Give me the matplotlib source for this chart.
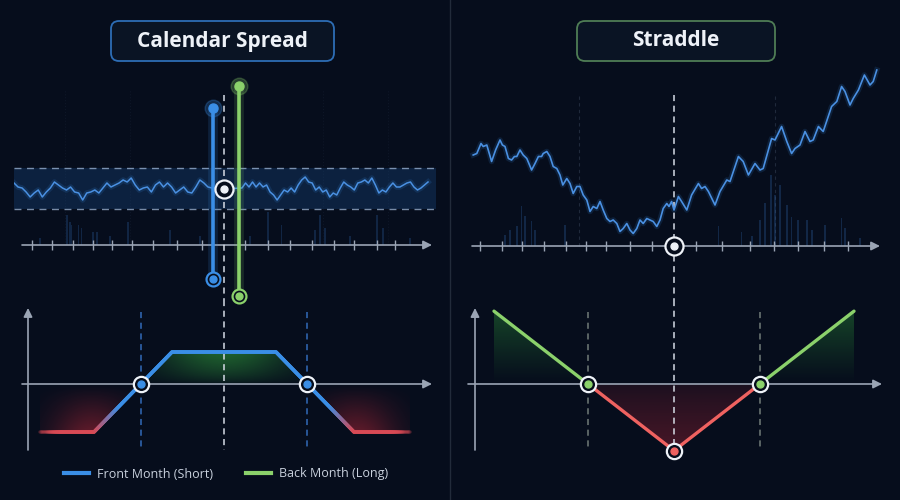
import numpy as np
import matplotlib
matplotlib.use('Agg')
import matplotlib.pyplot as plt
from matplotlib.collections import LineCollection
from matplotlib.patches import FancyBboxPatch
from matplotlib.lines import Line2D
from matplotlib.path import Path
from matplotlib.colors import to_rgb

plt.rcParams['font.family'] = ['Open Sans', 'DejaVu Sans']

BG = '#060d1c'
BLUE = '#3a8ee6'
GREEN = '#8bd16b'
RED = '#ef6260'
AXIS = '#9aa4b4'
WHITE = '#eef2f8'

# ---- calendar spread: underlying path around the strike (days, price)
cal_days_before = np.linspace(0, 49.5, 50)
cal_price_before = [100.6, 100.2, 100.1, 99.7, 99.2, 99.6, 99.9, 99.2, 99.7, 100.1,
                    100.7, 100.4, 100.1, 99.9, 100.2, 99.7, 99.6, 98.9, 99.6, 99.7,
                    99.9, 99.6, 100.1, 100.6, 100.2, 100.4, 100.6, 100.9, 100.7, 101.1,
                    100.4, 99.9, 100.1, 100.2, 99.7, 100.4, 100.7, 100.2, 100.6, 100.2,
                    99.6, 99.9, 100.2, 99.7, 99.6, 100.2, 100.9, 100.6, 100.2, 100.1]
cal_today = 52.5
cal_today_price = 100.0
cal_days_after = np.linspace(57, 103.5, 54)
cal_price_after = [100.1, 100.6, 100.2, 100.7, 100.2, 100.6, 100.2, 100.4, 99.7, 99.4,
                   98.9, 99.4, 99.9, 99.7, 100.1, 99.7, 100.4, 100.9, 101.2, 100.7,
                   100.6, 99.9, 100.2, 99.7, 99.9, 99.2, 99.6, 99.4, 100.1, 100.7,
                   100.4, 100.2, 99.9, 100.6, 100.7, 100.9, 100.6, 101.1, 100.4, 99.6,
                   99.9, 99.7, 100.2, 100.6, 100.2, 100.2, 100.4, 100.6, 100.7, 100.2,
                   99.9, 100.1, 100.4, 100.7]
cal_band = (98.0, 102.1)
cal_front_exp = 49.75
cal_back_exp = 56.25
cal_front_leg = (91.0, 108.1)
cal_back_leg = (89.3, 110.3)
cal_ticks = [4.5, 9.5, 14.7, 19.7, 24.4, 29.4, 34.8, 40.7, 46.9, 57.8, 63.5, 69, 74.5, 80, 85, 90.7, 95.3]
cal_grid = [12.75, 29, 77.25, 93.5]
cal_vol_days = [6.5, 13.2, 14.0, 14.4, 16.1, 16.9, 19.75, 20.7, 24.0, 28.5, 39.0, 46.5,
                59.0, 63.5, 66.9, 75.25, 76.5, 77.75, 84.0, 90.7, 92.25, 99.0]
cal_vol = [0.7, 3.0, 2.3, 2.0, 2.0, 1.7, 1.3, 1.3, 0.9, 2.3, 1.5, 0.9,
           0.9, 3.3, 2.0, 1.5, 3.0, 1.7, 0.9, 3.0, 1.7, 0.7]

# calendar spread payoff at front expiry
cal_S = [54, 67.5, 87, 113, 132.5, 146.5]
cal_pnl = [-3, -3, 2, 2, -3, -3]
cal_be = [79.2, 120.8]

# ---- straddle: underlying path (days, price)
str_days = [-0.2, 0.7, 1.75, 2.3, 3.2, 4.4, 5.4, 6.5, 7.1, 7.75,
            8.6, 9.4, 10.1, 10.7, 11.5, 12.3, 13.2, 14.4, 15.25, 16.1,
            16.9, 17.3, 18.2, 19.0, 19.8, 20.7, 21.5, 22.2, 23.2, 24.0,
            24.8, 25.7, 26.5, 27.3, 28.2, 29.0, 29.8, 30.7, 31.5, 32.3,
            33.2, 34.0, 34.8, 35.7, 36.5, 37.3, 38.2, 39.0, 39.8, 40.7,
            41.5, 42.3, 43.2, 44.0, 44.8, 45.7, 46.5, 47.3, 48.2, 48.75,
            49.4, 50.0, 51.1, 51.9, 53.2, 54.4, 56.1, 56.9, 57.75, 58.6,
            60.25, 61.5, 63.2, 64.0, 66.1, 67.3, 68.6, 70.25, 71.5, 72.3,
            74.4, 75.25, 76.9, 78.2, 79.4, 80.25, 81.5, 82.75, 84.0, 84.8,
            86.1, 87.3, 89.4, 90.7, 91.9, 92.75, 94.0, 94.8, 96.1, 97.6,
            99.0, 99.8, 100.7]
str_price = [111.0, 111.3, 113.3, 112.7, 113.0, 109.7, 112.0, 114.0, 113.0, 112.7,
             110.3, 110.0, 110.7, 110.7, 112.0, 111.0, 110.3, 108.0, 109.3, 110.7,
             110.7, 111.3, 111.7, 110.7, 108.7, 108.3, 107.0, 105.0, 106.3, 105.3,
             103.3, 104.7, 104.7, 103.0, 102.0, 99.7, 100.7, 100.3, 101.7, 100.0,
             98.3, 97.7, 98.0, 97.3, 95.7, 96.3, 97.3, 96.0, 95.3, 96.3,
             98.0, 97.3, 98.3, 98.0, 97.7, 96.7, 98.0, 100.3, 101.3, 100.7,
             101.7, 100.0, 102.7, 101.7, 100.0, 103.0, 105.3, 104.3, 104.7, 103.7,
             101.0, 103.7, 106.0, 105.7, 110.7, 109.7, 107.0, 109.3, 108.0, 108.3,
             114.3, 114.0, 116.7, 113.7, 111.3, 112.3, 113.0, 115.7, 113.7, 114.0,
             116.7, 115.7, 120.7, 121.7, 124.7, 123.7, 121.0, 122.3, 124.0, 127.0,
             125.0, 125.7, 128.0]
str_today = 50.0
str_ticks = [1.5, 7, 12, 17.5, 23, 28, 33, 39, 44.5, 55.5, 62, 69, 75, 81, 87.5, 93.5]
str_grid = [26.25, 75.25]
str_vol_days = [7.75, 9.0, 10.7, 11.9, 12.75, 14.4, 15.25, 22.75, 61.1, 66.9, 69.5, 71.5,
                72.75, 74.25, 75.25, 76.5, 78.2, 79.4, 81.0, 83.2, 84.5, 87.75, 91.9, 92.75, 96.5]
str_vol = [2.2, 3.2, 3.9, 7.9, 5.9, 4.9, 3.2, 4.2, 4.0, 2.8, 2.0, 5.2,
           8.6, 14.2, 10.2, 12.2, 8.2, 5.8, 5.2, 5.2, 3.2, 4.2, 5.6, 3.6, 1.6]

# straddle payoff at expiry
str_S = [55, 78.5, 100, 121.5, 145]
str_pnl = [23.5, 0, -21.5, 0, 23.5]

W, H = 900, 500
fig = plt.figure(figsize=(9, 5), dpi=100)
fig.patch.set_facecolor(BG)


def px_axes(x0, y0, x1, y1):
    ax = fig.add_axes([x0 / W, 1 - y1 / H, (x1 - x0) / W, (y1 - y0) / H])
    ax.axis('off')
    return ax


def arrow(ax, p0, p1):
    ax.annotate('', xy=p1, xytext=p0, annotation_clip=False,
                arrowprops=dict(arrowstyle='-|>', color=AXIS, lw=1.2, mutation_scale=13,
                                shrinkA=0, shrinkB=0))


def ring(ax, x, y, dot, edge=WHITE, size=11, dsize=4.5, z=8):
    ax.plot(x, y, 'o', ms=size, mfc=BG, mec=edge, mew=1.6, zorder=z, clip_on=False)
    ax.plot(x, y, 'o', ms=dsize, color=dot, zorder=z + 1, clip_on=False)


def glow_fill(ax, x, y, mask, rgb, alpha_fn, z=2):
    poly = ax.fill_between(x, y, 0, where=mask, facecolor='none', edgecolor='none')
    path = Path.make_compound_path(*poly.get_paths())
    x0, x1 = ax.get_xlim()
    y0, y1 = ax.get_ylim()
    X, Y = np.meshgrid(np.linspace(x0, x1, 400), np.linspace(y0, y1, 200))
    img = np.zeros((200, 400, 4))
    img[..., :3] = to_rgb(rgb)
    img[..., 3] = np.clip(alpha_fn(X, Y), 0, 1)
    im = ax.imshow(img, extent=(x0, x1, y0, y1), origin='lower', aspect='auto',
                   zorder=z, interpolation='bilinear')
    im.set_clip_path(path, transform=ax.transData)
    ax.set_xlim(x0, x1)
    ax.set_ylim(y0, y1)


def dashed(ax, x, y0, y1, color, lw=1.1, alpha=1.0, z=3):
    ax.plot([x, x], [y0, y1], color=color, lw=lw, alpha=alpha, ls=(0, (4, 3)),
            zorder=z, clip_on=False)


# ================= left panel: calendar spread =================
ax = px_axes(14, 80, 436, 300)
ax.set_xlim(0, 105.5)
ax.set_ylim(88.9, 110.9)
axis_y = 94.4
for g in cal_grid:
    ax.plot([g, g], [axis_y, 110], color='#3a4a66', lw=0.8, alpha=0.15, ls=':', zorder=1)
ax.axhspan(cal_band[0], cal_band[1], color='#1f5fa8', alpha=0.25, lw=0, zorder=1)
for b in cal_band:
    ax.axhline(b, color='#9fb6d6', lw=1.0, alpha=0.75, ls=(0, (5, 4)), zorder=2)
ax.bar(cal_vol_days, cal_vol, bottom=axis_y, width=0.35, color='#2f66aa', alpha=0.28, zorder=1)
cd = np.concatenate([cal_days_before, [cal_today], cal_days_after])
cp = np.concatenate([cal_price_before, [cal_today_price], cal_price_after])
ax.plot(cd, cp, color=BLUE, lw=4, alpha=0.15, zorder=3)
ax.plot(cd, cp, color='#4a90e2', lw=1.1, zorder=4)
arrow(ax, (2, axis_y), (104.5, axis_y))
ax.plot(cal_ticks, [axis_y] * len(cal_ticks), '|', color=AXIS, ms=7, mew=1.0, zorder=3)
dashed(ax, cal_today, 109.4, 88.9, '#d5dbe5')
for day, (lo, hi), col in [(cal_front_exp, cal_front_leg, BLUE), (cal_back_exp, cal_back_leg, GREEN)]:
    ax.plot([day, day], [lo, hi], color=col, lw=7, alpha=0.15, zorder=5, solid_capstyle='butt')
    ax.plot([day, day], [lo, hi], color=col, lw=2.6, zorder=6, solid_capstyle='butt')
    ax.plot(day, hi, 'o', ms=12, color=col, alpha=0.25, zorder=6, clip_on=False)
    ax.plot(day, hi, 'o', ms=6.5, color=col, zorder=7, clip_on=False)
    ring(ax, day, lo, col, edge=col, size=10, dsize=5, z=7)
ring(ax, cal_today, cal_today_price, WHITE, size=13, dsize=5, z=9)

# payoff
ax = px_axes(18, 300, 436, 460)
ax.set_xlim(48.5, 153)
ax.set_ylim(-4.75, 5.25)
arrow(ax, (49.5, 0), (152, 0))
arrow(ax, (51, -4.125), (51, 4.75))
xs = np.linspace(cal_S[0], cal_S[-1], 600)
ys = np.interp(xs, cal_S, cal_pnl)
glow_fill(ax, xs, ys, ys > 0, '#2f9a3c',
          lambda X, Y: 0.6 * np.exp(-((X - 100) / 17) ** 2) * np.clip(Y / 2.0, 0, 1) ** 0.6)
glow_fill(ax, xs, ys, ys < 0, '#b82838',
          lambda X, Y: 0.5 * np.clip(-Y / 3, 0, 1) ** 1.0 *
          (np.exp(-((X - 67) / 10) ** 2) + np.exp(-((X - 133) / 10) ** 2)))
t = np.clip((ys + 3) / 1.6, 0, 1)[:-1, None]
cols = np.array(to_rgb('#d84a55')) * (1 - t) + np.array(to_rgb(BLUE)) * t
fade = np.clip(np.minimum(xs - cal_S[0], cal_S[-1] - xs)[:-1] / 5, 0.25, 1)[:, None]
rgba = np.hstack([cols, fade])
pts = np.column_stack([xs, ys]).reshape(-1, 1, 2)
segs = np.concatenate([pts[:-1], pts[1:]], axis=1)
ax.add_collection(LineCollection(segs, colors=rgba, linewidths=2.6, zorder=5, capstyle='round'))
dashed(ax, 100, 5.25, -4.125, '#d5dbe5')
for b in cal_be:
    dashed(ax, b, 4.5, -4.125, '#3a7bd5', alpha=0.85)
    ring(ax, b, 0, BLUE, size=11, dsize=5)

# ================= right panel: straddle =================
ax = px_axes(468, 60, 884, 300)
ax.set_xlim(-1.5, 102.5)
ax.set_ylim(82, 130)
axis_y = 92.8
for g in str_grid:
    ax.plot([g, g], [axis_y, 123], color='#5a6a86', lw=0.8, alpha=0.3, ls=(0, (3, 3)), zorder=1)
ax.bar(str_vol_days, str_vol, bottom=axis_y, width=0.35, color='#2f66aa', alpha=0.3, zorder=1)
ax.plot(str_days, str_price, color=BLUE, lw=4, alpha=0.15, zorder=3)
ax.plot(str_days, str_price, color='#4a90e2', lw=1.2, zorder=4)
arrow(ax, (-0.5, axis_y), (101.5, axis_y))
ax.plot(str_ticks, [axis_y] * len(str_ticks), '|', color=AXIS, ms=7, mew=1.0, zorder=3)
dashed(ax, str_today, 123, 82, '#d5dbe5')
ring(ax, str_today, axis_y, WHITE, size=13, dsize=5, z=9)

ax = px_axes(468, 300, 884, 460)
ax.set_xlim(48.5, 152.5)
ax.set_ylim(-24.52, 27.1)
arrow(ax, (48.5, 0), (152, 0))
arrow(ax, (50.25, -21.3), (50.25, 24.5))
xs = np.linspace(str_S[0], str_S[-1], 600)
ys = np.interp(xs, str_S, str_pnl)
glow_fill(ax, xs, ys, ys > 0, '#2f9a3c', lambda X, Y: 0.4 * np.clip(Y / 24, 0, 1) ** 1.1)
glow_fill(ax, xs, ys, ys < 0, '#a82436', lambda X, Y: 0.12 + 0.28 * np.clip(-Y / 21.5, 0, 1) ** 0.8)
ax.plot(str_S[:2], str_pnl[:2], color=GREEN, lw=2.4, zorder=5, solid_capstyle='round')
ax.plot(str_S[-2:], str_pnl[-2:], color=GREEN, lw=2.4, zorder=5, solid_capstyle='round')
ax.plot(str_S[1:4], str_pnl[1:4], color=RED, lw=2.4, zorder=5, solid_capstyle='round')
dashed(ax, 100, 27.1, -21.3, '#d5dbe5')
for b in (str_S[1], str_S[3]):
    dashed(ax, b, 23.2, -21.3, '#8a968e', alpha=0.8)
    ring(ax, b, 0, GREEN, size=11, dsize=5)
ring(ax, str_S[2], str_pnl[2], RED, size=11, dsize=5)

# ================= titles, divider, legend =================
fig.add_artist(Line2D([0.5, 0.5], [0, 1], color='#222b3a', lw=1.0))
for (x0, w, edge, label) in [(111, 223, '#2d6db5', 'Calendar Spread'),
                             (577, 198, '#4f7d55', 'Straddle')]:
    box = FancyBboxPatch((x0 / 100, (H - 61) / 100), w / 100, 0.40,
                         boxstyle='round,pad=0,rounding_size=0.08',
                         transform=fig.dpi_scale_trans, facecolor='#0a1424',
                         edgecolor=edge, lw=1.3)
    fig.add_artist(box)
    fig.text((x0 + w / 2) / W, 1 - 41 / H, label, ha='center', va='center',
             fontsize=15, fontweight='bold', color=WHITE)

handles = [Line2D([], [], color=BLUE, lw=3), Line2D([], [], color=GREEN, lw=3)]
fig.legend(handles, ['Front Month (Short)', 'Back Month (Long)'], loc='center',
           bbox_to_anchor=(226 / W, 1 - 474 / H), ncol=2, frameon=False,
           fontsize=9, labelcolor='#c8d0dc', handlelength=2.0, handletextpad=0.6,
           columnspacing=2.7)

fig.savefig('out.png', dpi=100, facecolor=BG)
